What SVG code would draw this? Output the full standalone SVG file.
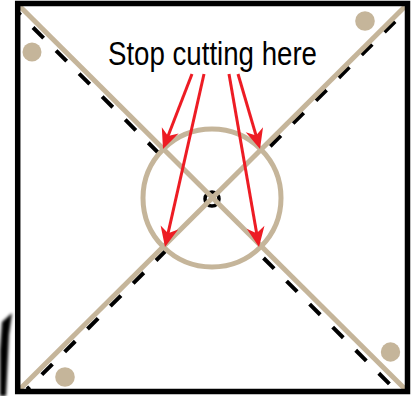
<svg xmlns="http://www.w3.org/2000/svg" width="417" height="396" viewBox="0 0 417 396">
  <style>
    .tan { stroke: #C5B59A; stroke-width: 5; fill: none; }
    .dot { fill: #C5B59A; }
    .dash { stroke: #000; stroke-width: 4; fill: none; }
    .arrow { stroke: #ED1C24; stroke-width: 3; fill: none; marker-end: url(#head); }
    .label { font-family: "Liberation Sans", Arial, sans-serif; font-size: 33px; fill: #000; }
  </style>
  <defs>
    <marker id="head" viewBox="-22 -10 24 20" markerWidth="24" markerHeight="20" refX="-10" refY="0" orient="auto" markerUnits="userSpaceOnUse">
      <path d="M0,0 L-20,-9 L-14,0 L-20,9 Z" fill="#ED1C24"/>
    </marker>
    <filter id="blur" x="-50%" y="-10%" width="200%" height="120%">
      <feGaussianBlur stdDeviation="1.5"/>
    </filter>
  </defs>
  <rect width="417" height="396" fill="#fff"/>

  <g id="smudge">
    <polygon points="2,322 12,313 9,335 6,396 0,396 0,350" fill="#000" filter="url(#blur)"/>
  </g>

  <g id="fold-lines">
    <line class="dash" x1="19" y1="13.5" x2="395" y2="389.5" stroke-dasharray="15 17.6" stroke-dashoffset="12.8"/>
    <line class="dash" x1="404" y1="12.5" x2="27" y2="389.5" stroke-dasharray="15 17.3" stroke-dashoffset="19.6"/>
  </g>

  <g id="circle">
    <circle cx="212" cy="198" r="69" class="tan" style="fill:#fff"/>
    <circle cx="212" cy="199" r="7" fill="#fff" stroke="#000" stroke-width="3.5"/>
  </g>

  <g id="cut-lines">
    <line class="tan" x1="20" y1="6.5" x2="405" y2="389"/>
    <line class="tan" x1="405" y1="6.5" x2="20" y2="389"/>
  </g>

  <g id="dots">
    <circle class="dot" cx="32" cy="52" r="9.5"/>
    <circle class="dot" cx="365" cy="21" r="9.8"/>
    <circle class="dot" cx="65" cy="377" r="9.8"/>
    <circle class="dot" cx="390.5" cy="352" r="9.7"/>
  </g>

  <g id="square">
    <rect x="17.7" y="3.5" width="389.8" height="388" fill="none" stroke="#000" stroke-width="5.5"/>
  </g>

  <g id="label">
    <text class="label" x="108" y="65" textLength="209" lengthAdjust="spacingAndGlyphs">Stop cutting here</text>
  </g>

  <g id="connectors">
    <line class="arrow" x1="192" y1="74" x2="166.6" y2="139.7"/>
    <line class="arrow" x1="204" y1="74" x2="167.2" y2="237.2"/>
    <line class="arrow" x1="229" y1="74" x2="257.3" y2="237.1"/>
    <line class="arrow" x1="238" y1="74" x2="257.2" y2="139.4"/>
  </g>
</svg>
